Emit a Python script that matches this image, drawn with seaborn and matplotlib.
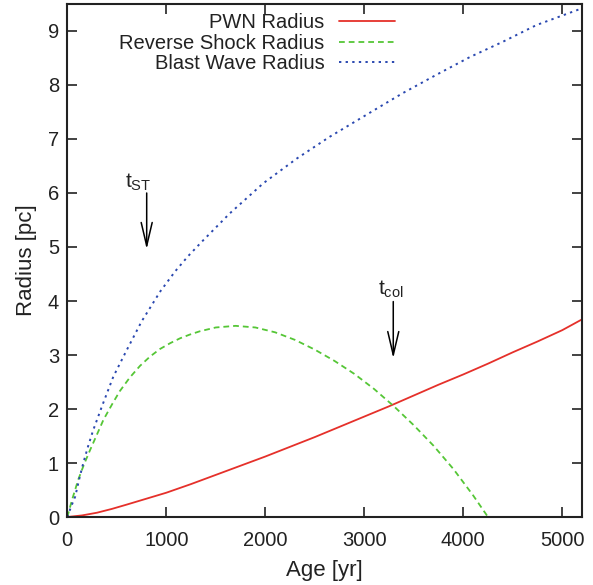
import matplotlib
matplotlib.use("Agg")
import matplotlib.pyplot as plt
import seaborn as sns
import pandas as pd

# ---- data ----
blast_age = [0, 40, 80, 120, 160, 210, 260, 350, 465, 600, 750, 940, 1090, 1220, 1360,
             1640, 1980, 2320, 2650, 2960, 3160, 3390, 3730, 4070, 4400, 4740, 5200]
blast_r = [0, 0.2, 0.38, 0.7, 0.99, 1.31, 1.6, 2.05, 2.6, 3.09, 3.62, 4.18, 4.55, 4.83, 5.1,
           5.62, 6.18, 6.64, 7.04, 7.38, 7.6, 7.85, 8.19, 8.52, 8.8, 9.11, 9.42]

rev_age = [0, 50, 110, 170, 230, 300, 365, 450, 530, 630, 735, 835, 935, 1040, 1140, 1240,
           1340, 1500, 1700, 1900, 2100, 2300, 2500, 2700, 2900, 3100, 3300, 3500, 3700,
           3900, 4100, 4190, 4250]
rev_r = [0, 0.33, 0.69, 0.98, 1.24, 1.53, 1.8, 2.08, 2.33, 2.58, 2.8, 2.97, 3.11, 3.22,
         3.31, 3.38, 3.44, 3.51, 3.54, 3.51, 3.42, 3.28, 3.1, 2.89, 2.65, 2.37, 2.05, 1.70,
         1.32, 0.89, 0.40, 0.16, 0]

pwn_age = [0, 150, 300, 450, 600, 800, 1000, 1250, 1500, 1750, 2000, 2250, 2500, 2750,
           3000, 3250, 3500, 3750, 4000, 4250, 4500, 4750, 5000, 5200]
pwn_r = [0, 0.03, 0.08, 0.15, 0.23, 0.34, 0.45, 0.61, 0.78, 0.95, 1.12, 1.3, 1.48, 1.67,
         1.86, 2.05, 2.25, 2.45, 2.64, 2.84, 3.05, 3.25, 3.46, 3.66]

series_names = ["PWN Radius", "Reverse Shock Radius", "Blast Wave Radius"]
x_ticks = [0, 1000, 2000, 3000, 4000, 5000]
y_ticks = [0, 1, 2, 3, 4, 5, 6, 7, 8, 9]

t_st_age, t_st_top, t_st_tip = 802, 6.0, 4.96
t_col_age, t_col_top, t_col_tip = 3293, 3.99, 2.94

# ---- styling ----
sns.set_theme(style="ticks")
plt.rcParams["font.family"] = ["Liberation Sans", "DejaVu Sans"]
plt.rcParams["mathtext.fontset"] = "custom"
plt.rcParams["mathtext.rm"] = "Liberation Sans"
plt.rcParams["mathtext.it"] = "Liberation Sans"

fig = plt.figure(figsize=(5.93, 5.85), dpi=100)
ax = fig.add_axes([0.1135, 0.1162, 0.868, 0.877])

pwn_df = pd.DataFrame({"age": pwn_age, "r": pwn_r})
rev_df = pd.DataFrame({"age": rev_age, "r": rev_r})
bw_df = pd.DataFrame({"age": blast_age, "r": blast_r})

sns.lineplot(data=pwn_df, x="age", y="r", ax=ax, color="#e5302a", lw=1.3,
             label=series_names[0], sort=False)
sns.lineplot(data=rev_df, x="age", y="r", ax=ax, color="#55c636", lw=1.3,
             dashes=(3.2, 2.2), label=series_names[1], sort=False)
sns.lineplot(data=bw_df, x="age", y="r", ax=ax, color="#2a48b0", lw=1.4,
             dashes=(1.2, 2.2), label=series_names[2], sort=False)

ax.set_xlim(0, 5200)
ax.set_ylim(0, 9.5)
ax.set_xticks(x_ticks)
ax.set_yticks(y_ticks)
ax.set_xticklabels([str(v) for v in x_ticks])
ax.set_yticklabels([str(v) for v in y_ticks])
ax.tick_params(direction="in", length=7, width=1.2, labelsize=14.5, colors="#222222",
               top=True, right=True)
ax.tick_params(axis="x", pad=10)
ax.tick_params(axis="y", pad=6)
for s in ax.spines.values():
    s.set_linewidth(1.5)
    s.set_color("#222222")

ax.set_xlabel("Age [yr]", fontsize=16, color="#222222", labelpad=7)
ax.set_ylabel("Radius [pc]", fontsize=16, color="#222222", labelpad=8)

leg = ax.legend(loc="upper right", bbox_to_anchor=(0.637, 0.982), frameon=False,
                markerfirst=False, fontsize=14.5, handlelength=2.8, handletextpad=0.7,
                labelspacing=0.075, borderpad=0, borderaxespad=0)
for t in leg.get_texts():
    t.set_color("#222222")

arrow_style = "->,head_length=1.4,head_width=0.33"
ax.annotate("", xy=(t_st_age, t_st_tip), xytext=(t_st_age, t_st_top),
            arrowprops=dict(arrowstyle=arrow_style, color="black", lw=1.1,
                            shrinkA=0, shrinkB=0))
ax.annotate("", xy=(t_col_age, t_col_tip), xytext=(t_col_age, t_col_top),
            arrowprops=dict(arrowstyle=arrow_style, color="black", lw=1.1,
                            shrinkA=0, shrinkB=0))
ax.text(583, 6.09, r"$\mathrm{t}_{\mathrm{ST}}$", fontsize=15, ha="left", va="baseline",
        color="#222222")
ax.text(3138, 4.11, r"$\mathrm{t}_{\mathrm{col}}$", fontsize=15, ha="left", va="baseline",
        color="#222222")

fig.savefig("out.png", dpi=100)
